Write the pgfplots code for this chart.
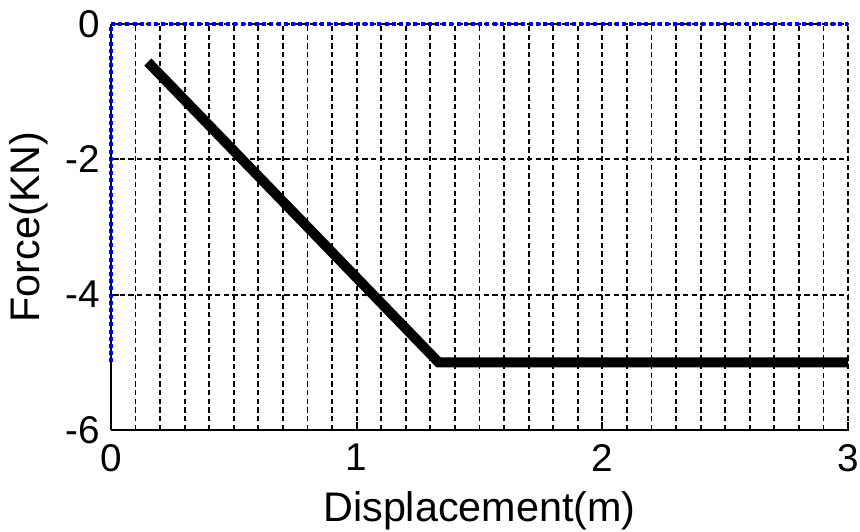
\documentclass[border=0pt]{standalone}
\usepackage{fontspec}
\setmainfont{Liberation Sans}
\usepackage{pgfplots}
\pgfplotsset{compat=1.18}
\begin{document}
\begin{tikzpicture}
\begin{axis}[
  scale only axis,
  width=552.75pt, height=304.5pt,
  xmin=0, xmax=3, ymin=-6, ymax=0,
  axis x line*=bottom, axis y line*=left,
  axis line style={line width=1.5pt, -},
  xtick={0,1,2,3}, minor x tick num=9,
  ytick={-6,-4,-2,0}, yticklabels={-6,-4,-2,0},
  tick align=inside,
  major tick length=6pt, minor tick length=4pt,
  tick style={black, line width=1.4pt},
  xmajorgrids, xminorgrids, ymajorgrids,
  grid style={black, line width=1.4pt, dash pattern=on 4pt off 2.5pt},
  /pgf/number format/assume math mode=true,
  ticklabel style={font=\fontsize{29}{29}\selectfont},
  label style={font=\fontsize{31}{31}\selectfont},
  xlabel={Displacement(m)}, ylabel={Force(KN)},
  xticklabel style={yshift=-7pt},
  yticklabel style={xshift=-5pt},
  xlabel style={yshift=-8pt},
  ylabel shift=6pt,
  clip=false,
]
% outline: x = 0 from -5 up to 0, then along y = 0
\addplot[draw=blue, line width=2.6pt, dash pattern=on 3pt off 2.4pt] coordinates {(0,-5) (0,0) (3,0)};
% force-displacement curve
\addplot[black, line width=7.5pt, line join=miter] coordinates {(0.15,-0.5625) (1.3333,-5) (3,-5)};
\end{axis}
\pgfresetboundingbox
\path[use as bounding box] ([xshift=-83.25pt,yshift=-76.5pt]current axis.south west) rectangle ([xshift=9pt,yshift=18pt]current axis.north east);
\end{tikzpicture}
\end{document}
